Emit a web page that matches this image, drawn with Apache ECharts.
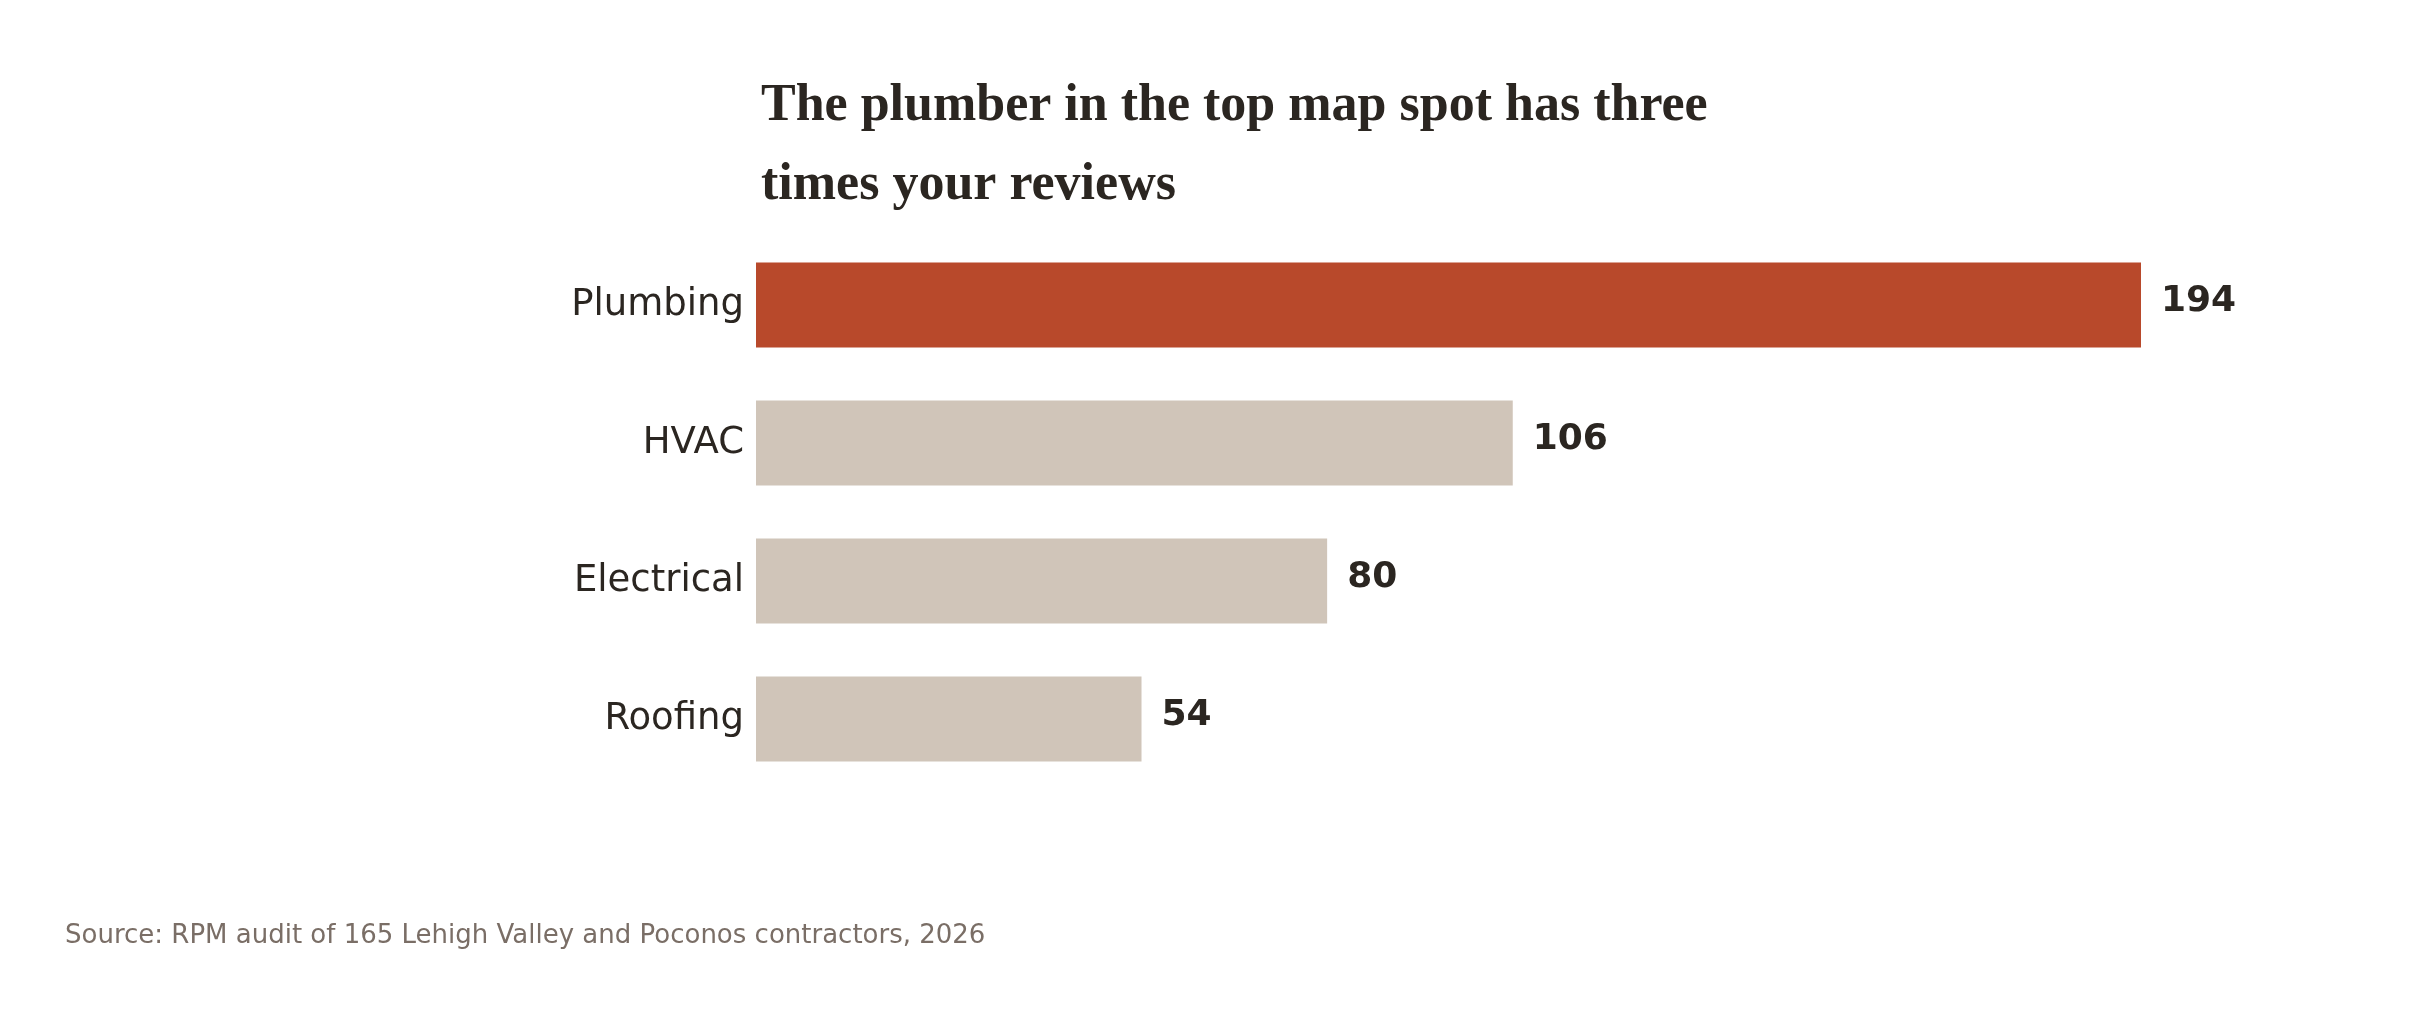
<!DOCTYPE html>
<html><head><meta charset="utf-8">
<script src="https://cdn.jsdelivr.net/npm/echarts@6/dist/echarts.min.js"></script>
<style>html,body{margin:0;background:#fff}#c{width:2424px;height:1010px}</style>
</head><body><div id="c"></div>
<script>
const categories = ["Plumbing", "HVAC", "Electrical", "Roofing"];
const values = [194, 106, 80, 54];
const highlight = "Plumbing";
const chart = echarts.init(document.getElementById('c'));
chart.setOption({
  backgroundColor: '#fff',
  animation: false,
  title: [{
    text: 'The plumber in the top map spot has three\ntimes your reviews',
    left: 756, top: 62,
    textStyle: {fontFamily: 'Liberation Serif, serif', fontWeight: 'bold', fontSize: 52, lineHeight: 79, color: '#2b2621'}
  }, {
    text: 'Source: RPM audit of 165 Lehigh Valley and Poconos contractors, 2026',
    left: 60, top: 918,
    textStyle: {fontFamily: 'DejaVu Sans, sans-serif', fontWeight: 'normal', fontSize: 26, color: '#7a6e66'}
  }],
  grid: {left: 756, right: 283, top: 236, height: 552},
  xAxis: {type: 'value', min: 0, max: 194, show: false},
  yAxis: {
    type: 'category', data: categories, inverse: true,
    axisLine: {show: false}, axisTick: {show: false},
    axisLabel: {fontFamily: 'DejaVu Sans, sans-serif', fontSize: 37, color: '#2b2621', margin: 12}
  },
  series: [{
    type: 'bar', barWidth: 85,
    data: values.map((v, i) => ({value: v, itemStyle: {color: categories[i] === highlight ? '#b8492b' : '#d0c5b9'}})),
    label: {show: true, position: 'right', distance: 20, fontFamily: 'DejaVu Sans, sans-serif', fontWeight: 'bold', fontSize: 36, color: '#2b2621', offset: [0, -3]}
  }]
});
</script></body></html>
